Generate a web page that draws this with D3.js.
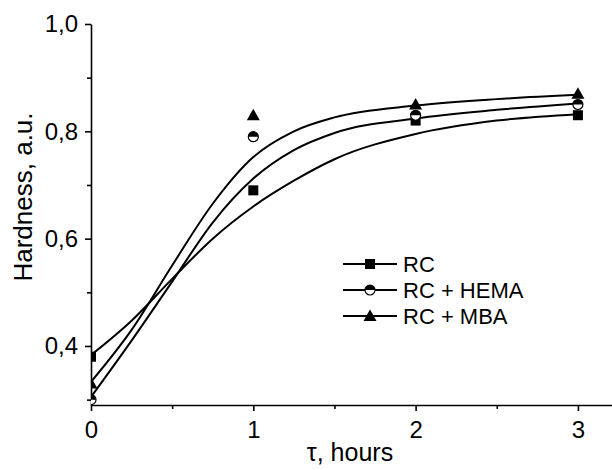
<!DOCTYPE html>
<html>
<head>
<meta charset="utf-8">
<script src="https://cdn.jsdelivr.net/npm/d3@7"></script>
<style>
  body { margin: 0; background: #fff; }
  svg text { font-family: "Liberation Sans", Arial, sans-serif; fill: #000; }
  .axis path, .axis line { stroke: #000; stroke-width: 1.6; }
  .axis text { font-size: 24px; }
</style>
</head>
<body>
<svg id="chart" width="612" height="470"></svg>
<script>
// measured points
var hours = [0, 1, 2, 3];
var rcValues = [0.38, 0.69, 0.82, 0.83];
var hemaValues = [0.30, 0.79, 0.83, 0.85];
var mbaValues = [0.33, 0.83, 0.85, 0.87];

// fitted curves
var curveHours = [0, 0.25, 0.5, 0.75, 1, 1.25, 1.5, 2, 2.5, 3];
var rcCurve = [0.383, 0.447, 0.525, 0.60, 0.66, 0.708, 0.748, 0.795, 0.820, 0.832];
var hemaCurve = [0.305, 0.41, 0.52, 0.63, 0.712, 0.765, 0.797, 0.824, 0.840, 0.852];
var mbaCurve = [0.333, 0.43, 0.55, 0.665, 0.752, 0.80, 0.826, 0.848, 0.860, 0.868];

var seriesNames = ['RC', 'RC + HEMA', 'RC + MBA'];
var yTicks = [0.4, 0.6, 0.8, 1.0];
var yMinor = [0.3, 0.5, 0.7, 0.9];
var xTicks = [0, 1, 2, 3];
var xMinor = [0.5, 1.5, 2.5];

var margin = {top: 24, right: 0, bottom: 65, left: 91}
  , width = 612 - margin.left - margin.right
  , height = 470 - margin.top - margin.bottom;

const xScale = d3.scaleLinear()
                .domain([0, 3.21])
                .range([0, width])

const yScale = d3.scaleLinear()
                .domain([0.29, 1.0])
                .range([height, 0])

const svg = d3.select('#chart')
  .append('g')
    .attr('transform', 'translate(' + margin.left + ',' + margin.top + ')');

svg.append('clipPath')
    .attr('id', 'plotClip')
  .append('rect')
    .attr('width', width)
    .attr('height', height)

// minor ticks first, then the labelled ones
svg.append('g')
    .attr('class', 'axis')
    .attr('transform', 'translate(0,' + height + ')')
    .call(d3.axisBottom(xScale).tickValues(xMinor).tickSize(4).tickFormat(''))
    .call(g => g.select('.domain').remove())

svg.append('g')
    .attr('class', 'axis')
    .call(d3.axisLeft(yScale).tickValues(yMinor).tickSize(4).tickFormat(''))
    .call(g => g.select('.domain').remove())

svg.append('g')
    .attr('class', 'axis')
    .attr('transform', 'translate(0,' + height + ')')
    .call(d3.axisBottom(xScale).tickValues(xTicks).tickSize(6).tickSizeOuter(0).tickPadding(10).tickFormat(d3.format('d')))

svg.append('g')
    .attr('class', 'axis')
    .call(d3.axisLeft(yScale).tickValues(yTicks).tickSize(6).tickSizeOuter(0).tickPadding(7)
      .tickFormat(function(d) { return d3.format('.1f')(d).replace('.', ',') }))

// axis titles
svg.append('text')
    .attr('x', 350 - margin.left)
    .attr('y', 461 - margin.top)
    .attr('text-anchor', 'middle')
    .style('font-size', '25px')
    .text('τ, hours')

svg.append('text')
    .attr('transform', 'translate(' + (32 - margin.left) + ',' + (197 - margin.top) + ') rotate(-90)')
    .attr('text-anchor', 'middle')
    .style('font-size', '26px')
    .text('Hardness, a.u.')

var line = d3.line()
          .x(function(d) { return xScale(d[0]) })
          .y(function(d) { return yScale(d[1]) })
          .curve(d3.curveMonotoneX)

var plot = svg.append('g').attr('clip-path', 'url(#plotClip)')

var curves = [rcCurve, hemaCurve, mbaCurve];
curves.forEach(function(c) {
  plot.append('path')
      .datum(curveHours.map(function(t, i) { return [t, c[i]] }))
      .attr('fill', 'none')
      .attr('stroke', '#000')
      .attr('stroke-width', 2)
      .attr('d', line)
});

// marker shapes
function drawSquare(g) {
  g.append('rect').attr('x', -5).attr('y', -5).attr('width', 10).attr('height', 10).attr('fill', '#000')
}
function drawHalfCircle(g) {
  g.append('circle').attr('r', 5).attr('fill', '#fff').attr('stroke', '#000').attr('stroke-width', 1.2)
  g.append('path').attr('d', 'M-5,0 A5,5 0 0 1 5,0 Z').attr('fill', '#000')
}
function drawTriangle(g) {
  g.append('path').attr('d', 'M0,-6.5 L6.5,5 L-6.5,5 Z').attr('fill', '#000')
}
var markers = [drawSquare, drawHalfCircle, drawTriangle];
var values = [rcValues, hemaValues, mbaValues];

values.forEach(function(vals, s) {
  plot.append('g').selectAll('g')
      .data(vals)
      .enter()
      .append('g')
        .attr('transform', function(d, i) { return 'translate(' + xScale(hours[i]) + ',' + yScale(d) + ')' })
        .each(function() { markers[s](d3.select(this)) })
});

// legend
var legend = svg.append('g')
    .attr('transform', 'translate(' + (343 - margin.left) + ',' + (264 - margin.top) + ')')

seriesNames.forEach(function(name, i) {
  var row = legend.append('g').attr('transform', 'translate(0,' + (i * 26) + ')')
  row.append('line').attr('x1', 0).attr('x2', 54).attr('stroke', '#000').attr('stroke-width', 2)
  markers[i](row.append('g').attr('transform', 'translate(27,0)'))
  row.append('text')
      .attr('x', 60)
      .attr('dy', '0.36em')
      .style('font-size', '22px')
      .text(name)
});
</script>
</body>
</html>
